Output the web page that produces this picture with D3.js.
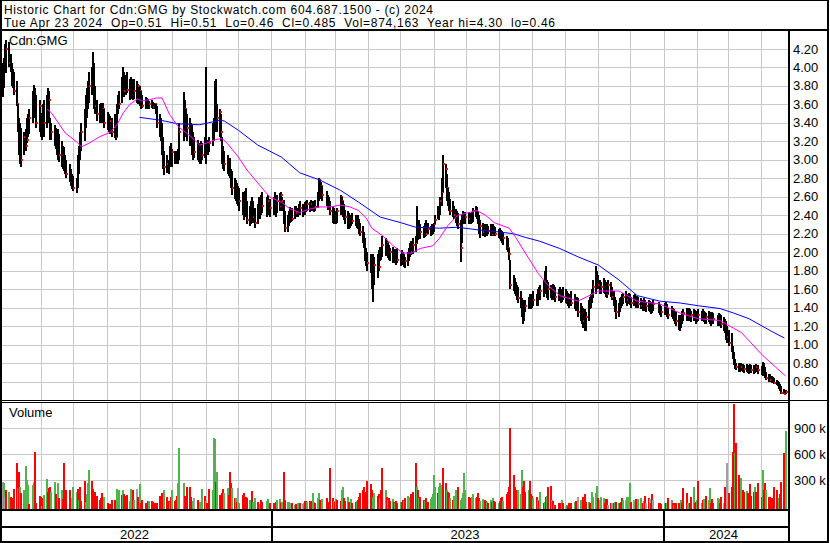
<!DOCTYPE html>
<html>
<head>
<meta charset="utf-8">
<script src="https://cdn.jsdelivr.net/npm/d3@7"></script>
<style>
  body { margin: 0; background: #fff; }
  svg text { font-family: "Liberation Sans", Arial, sans-serif; font-size: 13px; fill: #000; }
</style>
</head>
<body>
<div id="chart"></div>
<script>
// chart size
var width = 830;
var height = 543;

// TSX closures on weekdays (which weekdays have a bar)
var holidays = ["2022-05-23","2022-07-01","2022-08-01","2022-09-05","2022-10-10","2022-12-26","2022-12-27",
  "2023-01-02","2023-02-20","2023-04-07","2023-05-22","2023-07-03","2023-08-07","2023-09-04","2023-10-09",
  "2023-12-25","2023-12-26","2024-01-01","2024-02-19","2024-03-29"];

// daily highs (one per trading day, Apr 26 2022 .. Apr 23 2024)
var hi = [
4.05,4.10,4.25,4.30,4.28,4.15,4.05,3.98,3.95,3.85, 3.60,3.45,3.40,3.35,3.30,3.33,3.45,3.50,3.55,3.75,
3.81,3.78,3.70,3.65,3.51,3.48,3.60,3.65,3.70,3.78, 3.75,3.45,3.40,3.38,3.35,3.30,3.33,3.28,3.20,3.15,
3.14,3.05,3.00,2.95,2.90,2.85,2.82,2.80,3.05,3.15, 3.30,3.40,3.55,3.70,3.78,3.85,3.95,4.00,4.17,4.05,
3.80,3.65,3.60,3.62,3.58,3.62,3.55,3.52,3.50,3.48, 3.45,3.50,3.42,3.60,3.70,3.75,3.90,4.00,3.95,3.92,
3.95,3.88,3.90,3.88,3.85,3.88,3.85,3.82,3.80,3.75, 3.70,3.68,3.67,3.66,3.64,3.65,3.63,3.62,3.60,3.58,
3.50,3.45,3.40,3.25,3.10,3.05,3.00,3.15,3.18,3.12, 3.10,3.08,3.10,3.12,3.40,3.73,3.65,3.55,3.50,3.45,
3.40,3.38,3.30,3.25,3.22,3.18,3.15,3.20,3.18,3.25, 4.00,3.22,3.20,3.25,3.40,3.45,3.85,3.87,3.60,3.55,
3.50,3.25,3.15,3.10,3.05,3.00,3.02,2.90,2.88,2.80, 2.78,2.75,2.72,2.70,2.65,2.62,2.66,2.70,2.55,2.50,
2.55,2.60,2.55,2.48,2.52,2.60,2.58,2.62,2.65,2.60, 2.62,2.58,2.60,2.65,2.60,2.62,2.64,2.65,2.60,2.56,
2.45,2.40,2.45,2.49,2.46,2.48,2.50,2.50,2.48,2.52, 2.55,2.52,2.50,2.54,2.55,2.56,2.54,2.57,2.55,2.53,
2.56,2.65,2.80,2.78,2.76,2.72,2.66,2.62,2.60,2.55, 2.50,2.48,2.45,2.42,2.48,2.62,2.60,2.55,2.52,2.46,
2.45,2.42,2.40,2.40,2.42,2.40,2.38,2.40,2.36,2.32, 2.28,2.22,2.15,2.05,2.00,1.98,1.95,1.98,1.95,1.98,
2.02,2.06,2.05,2.17,2.15,2.12,2.10,2.08,2.05,2.06, 2.02,2.03,2.00,2.05,1.98,2.02,2.00,1.98,1.95,2.00,
2.05,2.10,2.12,2.15,2.17,2.50,2.30,2.35,2.30,2.28, 2.32,2.35,2.32,2.28,2.30,2.28,2.32,2.40,2.50,2.48,
2.60,2.80,3.05,2.95,2.85,2.70,2.65,2.58,2.55,2.50, 2.47,2.45,2.42,2.35,2.40,2.45,2.42,2.44,2.43,2.42,
2.44,2.48,2.50,2.49,2.45,2.40,2.35,2.32,2.30,2.28, 2.30,2.28,2.30,2.28,2.30,2.28,2.27,2.25,2.26,2.24,
2.23,2.22,2.18,2.15,2.05,1.92,1.75,1.72,1.68,1.65, 1.62,1.58,1.50,1.48,1.45,1.48,1.52,1.55,1.52,1.55,
1.58,1.55,1.60,1.62,1.65,1.70,1.80,1.85,1.70,1.68, 1.65,1.62,1.66,1.64,1.62,1.60,1.62,1.58,1.60,1.62,
1.60,1.58,1.56,1.55,1.58,1.55,1.50,1.52,1.50,1.45, 1.42,1.40,1.38,1.35,1.48,1.52,1.55,1.60,1.70,1.85,
1.80,1.75,1.70,1.68,1.72,1.70,1.68,1.65,1.70,1.68, 1.62,1.58,1.52,1.48,1.45,1.50,1.52,1.55,1.56,1.58,
1.55,1.56,1.55,1.52,1.54,1.55,1.52,1.53,1.52,1.50, 1.48,1.50,1.48,1.46,1.48,1.47,1.45,1.46,1.48,1.46,
1.44,1.42,1.45,1.46,1.44,1.40,1.42,1.40,1.38,1.36, 1.35,1.32,1.30,1.32,1.36,1.38,1.40,1.38,1.40,1.38,
1.36,1.38,1.37,1.35,1.36,1.38,1.36,1.38,1.36,1.35, 1.34,1.36,1.35,1.33,1.35,1.34,1.32,1.34,1.33,1.32,
1.30,1.28,1.25,1.20,1.16,1.12,0.98,0.92,0.84,0.80, 0.80,0.78,0.80,0.79,0.78,0.79,0.78,0.77,0.79,0.78,
0.78,0.77,0.79,0.78,0.77,0.81,0.80,0.76,0.70,0.68, 0.68,0.66,0.65,0.64,0.62,0.61,0.60,0.57,0.55,0.52,
0.51];

// daily lows
var lo = [
3.68,3.78,3.95,3.94,4.00,3.95,3.80,3.78,3.70,3.58, 3.30,3.05,2.95,2.92,3.05,3.10,3.18,3.25,3.28,3.40,
3.45,3.50,3.35,3.30,3.25,3.22,3.30,3.25,3.35,3.40, 3.45,3.22,3.22,3.15,3.12,3.05,3.00,2.98,2.92,2.90,
2.88,2.85,2.80,2.76,2.72,2.68,2.66,2.64,2.70,2.85, 3.00,3.10,3.20,3.35,3.45,3.55,3.62,3.70,3.75,3.55,
3.50,3.42,3.40,3.42,3.40,3.40,3.35,3.32,3.30,3.28, 3.25,3.24,3.22,3.25,3.50,3.55,3.62,3.70,3.68,3.70,
3.72,3.65,3.68,3.66,3.65,3.66,3.62,3.60,3.58,3.55, 3.56,3.55,3.56,3.55,3.55,3.56,3.55,3.55,3.50,3.35,
3.25,3.20,3.05,2.90,2.84,2.86,2.85,2.92,2.95,2.92, 2.95,2.96,2.95,2.96,3.00,3.20,3.30,3.25,3.20,3.15,
3.15,3.05,3.00,3.02,3.00,2.98,2.96,2.96,3.00,3.02, 2.96,3.08,3.05,3.08,3.15,3.20,3.30,3.40,3.30,3.25,
3.20,2.95,2.90,2.88,2.85,2.82,2.80,2.70,2.62,2.58, 2.55,2.52,2.50,2.45,2.40,2.35,2.38,2.40,2.30,2.28,
2.30,2.35,2.32,2.26,2.30,2.38,2.36,2.40,2.42,2.38, 2.40,2.38,2.40,2.42,2.38,2.42,2.45,2.50,2.45,2.30,
2.22,2.22,2.28,2.32,2.33,2.34,2.36,2.38,2.38,2.40, 2.40,2.38,2.40,2.40,2.44,2.45,2.44,2.45,2.45,2.44,
2.45,2.48,2.55,2.62,2.58,2.55,2.50,2.46,2.48,2.40, 2.32,2.30,2.32,2.30,2.32,2.40,2.42,2.38,2.35,2.30,
2.25,2.25,2.26,2.28,2.30,2.28,2.26,2.25,2.20,2.17, 2.10,2.05,1.90,1.85,1.80,1.77,1.60,1.46,1.65,1.72,
1.80,1.90,1.92,1.95,1.96,1.98,1.94,1.92,1.90,1.88, 1.88,1.88,1.86,1.88,1.85,1.87,1.86,1.84,1.83,1.85,
1.90,1.95,1.97,1.98,2.00,2.10,2.13,2.15,2.14,2.15, 2.16,2.17,2.20,2.18,2.19,2.20,2.22,2.30,2.36,2.35,
2.40,2.50,2.65,2.70,2.55,2.50,2.45,2.40,2.38,2.36, 2.32,2.28,2.25,1.89,2.10,2.32,2.30,2.30,2.31,2.30,
2.32,2.33,2.38,2.36,2.30,2.20,2.15,2.18,2.16,2.18, 2.18,2.20,2.18,2.18,2.20,2.18,2.17,2.15,2.14,2.12,
2.10,2.08,2.02,2.00,1.92,1.60,1.58,1.55,1.53,1.48, 1.45,1.40,1.30,1.22,1.25,1.35,1.38,1.40,1.38,1.40,
1.42,1.42,1.42,1.48,1.48,1.52,1.58,1.55,1.50,1.48, 1.50,1.48,1.50,1.48,1.46,1.47,1.48,1.45,1.46,1.48,
1.45,1.44,1.42,1.40,1.42,1.38,1.36,1.38,1.30,1.25, 1.22,1.18,1.15,1.15,1.25,1.38,1.40,1.45,1.50,1.55,
1.62,1.60,1.55,1.55,1.56,1.55,1.52,1.50,1.55,1.52, 1.48,1.42,1.35,1.28,1.30,1.35,1.40,1.42,1.44,1.45,
1.42,1.44,1.43,1.40,1.42,1.44,1.40,1.42,1.40,1.38, 1.36,1.38,1.36,1.35,1.36,1.35,1.33,1.34,1.36,1.34,
1.32,1.30,1.32,1.34,1.30,1.28,1.30,1.28,1.25,1.22, 1.20,1.16,1.15,1.18,1.22,1.25,1.26,1.25,1.28,1.26,
1.24,1.26,1.25,1.22,1.24,1.26,1.25,1.26,1.24,1.22, 1.22,1.24,1.22,1.20,1.22,1.22,1.20,1.22,1.20,1.18,
1.15,1.12,1.05,1.02,0.98,0.92,0.84,0.78,0.74,0.72, 0.70,0.70,0.71,0.70,0.69,0.70,0.69,0.68,0.70,0.69,
0.68,0.69,0.70,0.68,0.67,0.66,0.66,0.64,0.62,0.60, 0.60,0.58,0.58,0.57,0.56,0.55,0.52,0.50,0.47,0.46,
0.46];

// daily closes
var cl = [
3.80,4.05,4.00,4.20,4.05,3.98,3.85,3.82,3.75,3.60, 3.35,3.10,3.05,3.00,3.25,3.15,3.22,3.33,3.45,3.55,
3.62,3.55,3.40,3.58,3.30,3.35,3.35,3.40,3.45,3.70, 3.65,3.25,3.30,3.20,3.18,3.10,3.22,3.05,3.00,2.98,
2.95,2.90,2.85,2.82,2.75,2.72,2.70,2.75,2.98,3.05, 3.15,3.30,3.40,3.55,3.60,3.78,3.80,3.85,4.00,3.62,
3.58,3.50,3.52,3.50,3.48,3.55,3.40,3.45,3.42,3.42, 3.30,3.28,3.25,3.55,3.58,3.60,3.72,3.80,3.75,3.78,
3.76,3.70,3.74,3.72,3.70,3.75,3.72,3.80,3.74,3.62, 3.58,3.60,3.58,3.62,3.60,3.62,3.57,3.60,3.55,3.40,
3.30,3.32,3.10,2.95,2.92,2.95,2.96,3.05,3.00,3.08, 3.02,3.00,3.05,3.02,3.30,3.45,3.55,3.40,3.35,3.38,
3.30,3.10,3.12,3.08,3.05,3.02,3.00,3.10,3.05,3.15, 3.20,3.15,3.12,3.18,3.33,3.35,3.55,3.48,3.45,3.52,
3.30,3.00,2.98,2.95,2.96,2.95,2.88,2.75,2.70,2.68, 2.62,2.70,2.60,2.55,2.58,2.45,2.60,2.50,2.35,2.40,
2.45,2.52,2.38,2.32,2.45,2.55,2.42,2.58,2.50,2.45, 2.55,2.48,2.52,2.58,2.45,2.55,2.50,2.62,2.55,2.40,
2.26,2.30,2.38,2.35,2.42,2.36,2.45,2.42,2.46,2.44, 2.48,2.42,2.47,2.46,2.50,2.52,2.48,2.52,2.50,2.48,
2.49,2.60,2.78,2.75,2.72,2.62,2.60,2.55,2.52,2.45, 2.35,2.40,2.35,2.38,2.45,2.60,2.55,2.50,2.40,2.38,
2.28,2.36,2.30,2.35,2.34,2.36,2.32,2.30,2.27,2.22, 2.16,2.12,1.98,1.95,1.88,1.85,1.70,1.80,1.86,1.90,
1.84,2.00,1.98,2.08,2.02,2.10,2.00,1.98,2.00,1.95, 1.96,1.95,1.98,1.92,1.94,1.98,1.96,1.88,1.90,1.95,
2.02,2.06,2.00,2.08,2.10,2.18,2.25,2.20,2.22,2.18, 2.27,2.20,2.25,2.23,2.25,2.24,2.30,2.35,2.45,2.42,
2.55,2.65,2.95,2.90,2.70,2.60,2.55,2.45,2.42,2.40, 2.35,2.38,2.30,2.05,2.35,2.40,2.35,2.38,2.36,2.38,
2.36,2.45,2.46,2.40,2.35,2.25,2.28,2.22,2.25,2.22, 2.25,2.23,2.26,2.20,2.25,2.22,2.20,2.22,2.18,2.15,
2.14,2.15,2.10,2.05,1.98,1.65,1.62,1.66,1.58,1.55, 1.50,1.45,1.42,1.30,1.40,1.42,1.48,1.45,1.44,1.50,
1.48,1.46,1.55,1.52,1.58,1.62,1.65,1.60,1.55,1.60, 1.55,1.52,1.58,1.55,1.52,1.55,1.52,1.50,1.55,1.52,
1.48,1.50,1.45,1.50,1.45,1.42,1.45,1.40,1.35,1.30, 1.28,1.25,1.20,1.30,1.42,1.45,1.50,1.55,1.62,1.75,
1.70,1.65,1.60,1.62,1.65,1.60,1.58,1.55,1.65,1.58, 1.52,1.45,1.40,1.35,1.40,1.45,1.48,1.50,1.52,1.50,
1.48,1.52,1.48,1.45,1.50,1.48,1.46,1.48,1.44,1.42, 1.45,1.44,1.40,1.42,1.44,1.40,1.38,1.42,1.44,1.38,
1.36,1.35,1.40,1.38,1.34,1.32,1.38,1.33,1.30,1.28, 1.25,1.22,1.20,1.28,1.30,1.34,1.32,1.35,1.36,1.30,
1.32,1.35,1.30,1.28,1.33,1.32,1.34,1.30,1.32,1.28, 1.30,1.32,1.27,1.26,1.30,1.28,1.25,1.30,1.26,1.22,
1.20,1.18,1.10,1.08,1.02,0.95,0.88,0.80,0.77,0.76, 0.75,0.73,0.76,0.72,0.73,0.74,0.72,0.71,0.74,0.72,
0.71,0.73,0.76,0.72,0.70,0.75,0.68,0.66,0.64,0.63, 0.62,0.60,0.61,0.58,0.59,0.57,0.55,0.52,0.48,0.47,
0.485];

// daily volume in thousands of shares
var volK = [
282,263,108,186,166,108,89,60,195,503, 211,391,224,147,186,464,302,240,20,240,
282,631,40,120,108,5,89,128,311,166, 211,224,166,274,140,50,270,89,186,85,
503,180,186,190,70,89,224,166,195,70, 224,60,290,50,140,270,418,290,195,108,
166,120,70,89,147,40,108,40,25,20, 70,70,20,195,186,180,128,180,140,120,
128,60,195,50,186,70,195,108,250,31, 70,31,15,60,60,60,50,35,31,40,
120,70,147,155,186,108,60,50,108,186, 60,70,120,270,669,270,120,89,224,224,
108,60,62,89,70,31,50,50,195,120, 55,40,31,195,186,785,775,282,398,128,
108,150,200,147,205,128,398,263,205,89, 95,50,205,31,128,147,70,108,89,70,
65,178,50,89,50,15,20,70,50,60, 80,31,31,25,50,70,80,40,50,398,
70,50,50,40,31,40,8,20,31,20, 31,20,31,60,60,50,60,60,155,50,
31,89,147,70,60,80,89,50,40,440, 89,60,50,80,70,60,186,224,89,60,
108,50,40,80,31,50,60,70,108,147, 186,224,166,147,290,250,186,108,147,120,
140,89,186,440,186,108,70,89,60,80, 50,40,60,40,50,50,70,60,89,120,
89,108,140,166,500,224,186,89,108,70, 60,89,50,80,108,140,360,224,147,224,
263,240,440,263,186,166,147,89,70,120, 186,89,224,70,89,147,380,186,108,89,
108,140,89,108,147,89,60,80,70,60, 50,40,70,50,89,60,50,40,60,89,
108,60,140,166,224,900,360,224,186,147, 186,140,420,224,290,166,186,290,140,120,
89,108,70,60,166,31,50,108,115,224, 230,70,62,12,12,35,12,31,70,31,
5,12,5,31,35,50,55,35,100,70, 31,108,140,50,50,31,31,166,108,147,
230,89,70,108,89,31,80,80,12,31, 35,31,50,50,35,31,50,89,70,70,
108,108,263,50,70,50,80,31,80,89, 31,55,115,31,89,80,31,140,70,35,
31,25,31,31,31,89,70,35,12,31, 31,31,31,70,31,205,147,31,31,31,
100,224,31,50,70,290,31,70,80,55, 115,70,205,31,80,35,89,80,35,100,
31,224,100,495,147,224,630,1183,620,735, 360,250,330,186,166,175,147,120,250,115,
166,224,166,263,108,418,186,263,186,108, 108,89,31,224,186,89,90,140,274,620,
874];

// volume bar colour per day: g = up, r = down, n = unchanged
var volDir =
  "ngnrgrrrrr" + "grgrggggrg" + "grrrrnrggr" + "rrggrrgrgr" + "rrrrrnggrg" + "rrrggggrrr" +
  "rrrrrrgrrr" + "rrrgggrgrr" + "rgggrgnrgr" + "rrrrgrrrrr" + "rrrrgrrgrg" + "rrrgggrrrr" +
  "rrgnrrgggr" + "nrrrgggrgr" + "rrrggrrrgr" + "grngrrrrrg" + "grggrrgrrg" + "grrrrggrgr" +
  "rgggnrgrgg" + "rngrrgrrgg" + "rggrrgrrrr" + "rgrgrrggrr" + "grrgrrgrrr" + "rrrrrrrggr" +
  "rgrrgrgrrg" + "rgrrgrrgrg" + "ggrrrgrgrr" + "grrgggggrg" + "ggrrgrrgrg" + "ggrgggggrr" +
  "gggrrrggrr" + "grgrgrrgrr" + "rgrrrrrrrr" + "gggrrrgrrr" + "grgrgrgrgr" + "rgrgrrrrgr" +
  "ngrrrgrrng" + "grrrgrrggg" + "grnggrrrnr" + "nrgrgrrrgn" + "gggrngrrgg" + "rgrnrnrrnr" +
  "rrgrgrgrgr" + "rrrgrrrggr" + "rgrrgrgrgg" + "rggrrrggrr" + "nrrnrrrrgr" + "rrgrrgrrrr" +
  "rgrrrgrrgr" + "rrrrrrgrrr" + "g";

// moving averages (trading-day index, price)
var magentaIdx = [28,32,41,47,51,56,62,69,73,77,81,86,90,94,99,102,107,113,120,126,130,137,141,145,152,158,164,171,177,183,
  190,196,203,209,215,222,228,233,236,243,249,256,262,268,275,279,285,292,298,303,309,315,324,328,335,342,349,356,368,381,
  394,407,420,432,445,458,472,485,500];
var magentaVal = [3.55,3.51,3.29,3.19,3.14,3.18,3.25,3.30,3.38,3.51,3.60,3.66,3.64,3.65,3.67,3.67,3.49,3.36,3.25,3.16,
  3.18,3.22,3.23,3.16,3.03,2.89,2.75,2.60,2.54,2.47,2.43,2.47,2.49,2.49,2.51,2.49,2.45,2.37,2.26,2.18,
  2.07,1.99,1.99,2.04,2.07,2.15,2.29,2.40,2.43,2.45,2.40,2.32,2.26,2.16,1.99,1.77,1.64,1.53,1.47,1.58,
  1.58,1.47,1.44,1.34,1.28,1.26,1.13,0.88,0.66];
var blueIdx = [88,100,113,126,132,139,143,152,164,177,190,203,215,228,241,254,264,279,292,305,
  317,326,335,343,356,368,381,394,407,420,432,445,458,467,477,490,499];
var blueVal = [3.46,3.43,3.39,3.38,3.40,3.43,3.42,3.32,3.16,3.03,2.86,2.78,2.67,2.54,2.38,2.32,2.27,2.26,2.27,2.24,
  2.22,2.20,2.16,2.12,2.04,1.95,1.86,1.70,1.53,1.47,1.45,1.42,1.39,1.34,1.28,1.15,1.07];

// tick labels
var priceTicks = ["0.60","0.80","1.00","1.20","1.40","1.60","1.80","2.00","2.20","2.40",
  "2.60","2.80","3.00","3.20","3.40","3.60","3.80","4.00","4.20"];
var volTicks = [300, 600, 900];
var volTickLabels = ["300 k", "600 k", "900 k"];

var titleLine1 = "Historic Chart for Cdn:GMG by Stockwatch.com 604.687.1500 - (c) 2024";
var titleLine2 = "Tue Apr 23 2024  Op=0.51  Hi=0.51  Lo=0.46  Cl=0.485  Vol=874,163  Year hi=4.30  lo=0.46";

// layout
var plotLeft = 2, plotRight = 788;
var priceTop = 31, priceBottom = 400;
var volTop = 403, volBottom = 509;

var svg = d3.select("#chart").append("svg")
  .attr("width", width)
  .attr("height", height)
  .style("display", "block");

// trading days on a calendar time axis (weekends leave small gaps)
var fmt = d3.timeFormat("%Y-%m-%d");
var firstDay = new Date(2022, 3, 26), lastDay = new Date(2024, 3, 23);
var days = d3.timeDay.range(firstDay, d3.timeDay.offset(lastDay, 1))
  .filter(function(d) { return d.getDay() > 0 && d.getDay() < 6 && holidays.indexOf(fmt(d)) < 0; });

var x = d3.scaleTime().domain([firstDay, lastDay]).range([3, 785.5]);
var yP = d3.scaleLinear().domain([0.6, 4.2]).range([381.5, 49]);
var yV = d3.scaleLinear().domain([0, 900]).range([506, 428.45]);
function xi(i) { return Math.round(x(days[i])); }

var monthStarts = d3.timeMonth.range(new Date(2022, 5, 1), lastDay);
var yearStarts = d3.timeYear.range(new Date(2023, 0, 1), lastDay);

var grid = svg.append("g").attr("stroke", "#c8c8c8").attr("shape-rendering", "crispEdges");

// horizontal price gridlines
grid.selectAll(".hp").data(priceTicks).enter().append("line")
  .attr("x1", plotLeft).attr("x2", plotRight)
  .attr("y1", function(d) { return Math.round(yP(+d)) + 0.5; })
  .attr("y2", function(d) { return Math.round(yP(+d)) + 0.5; });

// horizontal volume gridlines
grid.selectAll(".hv").data(volTicks).enter().append("line")
  .attr("x1", plotLeft).attr("x2", plotRight)
  .attr("y1", function(d) { return Math.round(yV(d)) + 0.5; })
  .attr("y2", function(d) { return Math.round(yV(d)) + 0.5; });

// vertical month gridlines in both panels
monthStarts.forEach(function(m) {
  var gx = Math.floor(x(m)) + 0.5;
  grid.append("line").attr("x1", gx).attr("x2", gx).attr("y1", priceTop).attr("y2", priceBottom);
  grid.append("line").attr("x1", gx).attr("x2", gx).attr("y1", volTop).attr("y2", volBottom);
});

// price panel clip
svg.append("defs").append("clipPath").attr("id", "priceClip")
  .append("rect").attr("x", plotLeft).attr("y", priceTop)
  .attr("width", plotRight - plotLeft).attr("height", priceBottom - priceTop);

var priceG = svg.append("g").attr("clip-path", "url(#priceClip)").attr("shape-rendering", "crispEdges");

// high-low bar followed by its close mark, day by day, so the next bar can cover it
var dayG = priceG.selectAll(".day").data(cl).enter().append("g");
dayG.append("rect")
  .attr("x", function(d, i) { return xi(i) - 1; })
  .attr("width", 2)
  .attr("y", function(d, i) { return Math.round(yP(hi[i])); })
  .attr("height", function(d, i) { return Math.max(2, Math.round(yP(lo[i])) - Math.round(yP(hi[i]))); })
  .attr("fill", "#000");
dayG.append("rect")
  .attr("x", function(d, i) { return xi(i); })
  .attr("y", function(d) { return Math.round(yP(d)) - 1; })
  .attr("width", 2).attr("height", 2)
  .attr("fill", "#ff0000");

// moving averages
var line = d3.line();
priceG.append("path")
  .datum(blueIdx.map(function(d, k) { return [x(days[d]), yP(blueVal[k])]; }))
  .attr("d", line).attr("fill", "none").attr("stroke", "#0000ff").attr("stroke-width", 1)
  .attr("shape-rendering", "auto");
priceG.append("path")
  .datum(magentaIdx.map(function(d, k) { return [x(days[d]), yP(magentaVal[k])]; }))
  .attr("d", line).attr("fill", "none").attr("stroke", "#ff00ff").attr("stroke-width", 1)
  .attr("shape-rendering", "auto");

// volume bars
var volColor = { g: "#4cb54c", r: "#ff0000", n: "#a0a0a0" };
svg.append("g").attr("shape-rendering", "crispEdges")
  .selectAll("rect").data(volK).enter().append("rect")
  .attr("x", function(d, i) { return xi(i) - 1; })
  .attr("width", 2)
  .attr("y", function(d) { return Math.round(yV(d)); })
  .attr("height", function(d) { return volBottom - Math.round(yV(d)); })
  .attr("fill", function(d, i) { return volColor[volDir.charAt(i)] || volColor.n; });

// frame lines
var frame = svg.append("g").attr("fill", "#000").attr("shape-rendering", "crispEdges");
function box(x0, y0, w, h) { frame.append("rect").attr("x", x0).attr("y", y0).attr("width", w).attr("height", h); }
box(0, 0, 829, 1);        // header top
box(0, 0, 2, 543);        // left
box(827, 0, 2, 543);      // right
box(0, 29, 829, 2);       // header bottom
box(788, 31, 2, 512);     // axis column
box(0, 400, 829, 1);      // price panel bottom
box(0, 402, 789, 1);      // volume panel top
box(0, 509, 789, 2);      // volume panel bottom
box(0, 526, 789, 2);      // time row divider
box(0, 541, 829, 2);      // bottom

// year separators and labels
var yearEdges = [plotLeft].concat(yearStarts.map(function(d) { return Math.round(x(d)) - 1; }), [plotRight]);
yearStarts.forEach(function(d, k) { box(yearEdges[k + 1], 511, 2, 30); });
svg.selectAll(".year").data([firstDay].concat(yearStarts)).enter().append("text")
  .attr("x", function(d, k) { return (yearEdges[k] + yearEdges[k + 1]) / 2 - 2; })
  .attr("y", 539)
  .attr("text-anchor", "middle")
  .text(function(d) { return d.getFullYear(); });

// right axis labels
svg.selectAll(".pl").data(priceTicks).enter().append("text")
  .attr("x", 793)
  .attr("y", function(d) { return yP(+d) + 4.5; })
  .text(function(d) { return d; });
svg.selectAll(".vl").data(volTicks).enter().append("text")
  .attr("x", 794)
  .attr("y", function(d) { return yV(d) + 4.5; })
  .text(function(d, k) { return volTickLabels[k]; });

// header and panel titles
svg.append("text").attr("x", 4).attr("y", 13.5)
  .style("font-size", "12px")
  .attr("textLength", 429).attr("lengthAdjust", "spacing")
  .text(titleLine1);
svg.append("text").attr("x", 4).attr("y", 27)
  .style("font-size", "12px").style("white-space", "pre")
  .attr("textLength", 551).attr("lengthAdjust", "spacing")
  .text(titleLine2);
svg.append("text").attr("x", 9).attr("y", 45).text("Cdn:GMG");
svg.append("text").attr("x", 9).attr("y", 417).text("Volume");

// data length check
var n = days.length;
if (hi.length != n || lo.length != n || cl.length != n || volK.length != n || volDir.length != n) {
  svg.append("text").attr("x", 300).attr("y", 60).style("fill", "red")
    .text("len days " + n + " hi " + hi.length + " lo " + lo.length + " cl " + cl.length + " vol " + volK.length + " dir " + volDir.length);
}
</script>
</body>
</html>
